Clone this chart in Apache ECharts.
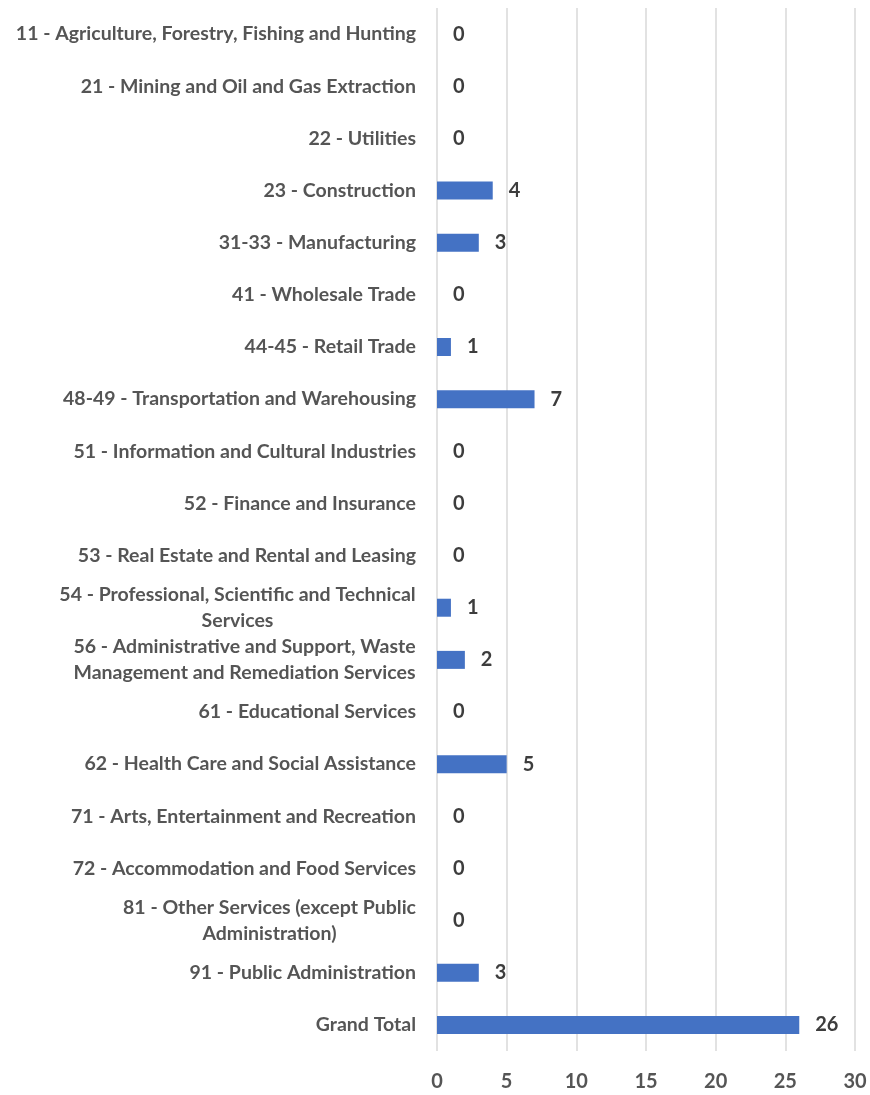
<!DOCTYPE html>
<html><head><meta charset="utf-8">
<script src="https://cdn.jsdelivr.net/npm/echarts@6/dist/echarts.min.js"></script>
<style>html,body{margin:0;padding:0;background:#fff}#c{width:870px;height:1095px}</style>
</head><body><div id="c"></div>
<script>
const categories = [
  "11 - Agriculture, Forestry, Fishing and Hunting",
  "21 - Mining and Oil and Gas Extraction",
  "22 - Utilities",
  "23 - Construction",
  "31-33 - Manufacturing",
  "41 - Wholesale Trade",
  "44-45 - Retail Trade",
  "48-49 - Transportation and Warehousing",
  "51 - Information and Cultural Industries",
  "52 - Finance and Insurance",
  "53 - Real Estate and Rental and Leasing",
  "54 - Professional, Scientific and Technical\nServices",
  "56 - Administrative and Support, Waste\nManagement and Remediation Services",
  "61 - Educational Services",
  "62 - Health Care and Social Assistance",
  "71 - Arts, Entertainment and Recreation",
  "72 - Accommodation and Food Services",
  "81 - Other Services (except Public\nAdministration)",
  "91 - Public Administration",
  "Grand Total"
];
const values = [0,0,0,4,3,0,1,7,0,0,0,1,2,0,5,0,0,0,3,26];
const xTicks = [0,5,10,15,20,25,30];

const FONT = 'Lato';
const LSIZE = 19.5;
const cv = document.createElement('canvas').getContext('2d');
cv.font = 'bold ' + LSIZE + 'px ' + FONT;
const lineW = c => Math.ceil(Math.max(...c.split('\n').map(l => cv.measureText(l).width)));
const rich = {};
categories.forEach(c => {
  if (c.indexOf('\n') < 0) return;
  const w = lineW(c);
  rich['c' + w] = { width: w, align: 'center', fontFamily: FONT, fontWeight: 'bold', fontSize: LSIZE, color: '#555555', lineHeight: 26 };
});
const chart = echarts.init(document.getElementById('c'));
chart.setOption({
  animation: false,
  grid: { left: 437, right: 15, top: 8, bottom: 44, containLabel: false },
  xAxis: {
    type: 'value', min: 0, max: 30, interval: 5,
    axisLine: { show: false }, axisTick: { show: false },
    splitLine: { show: true, lineStyle: { color: '#d9d9d9', width: 1.5 } },
    axisLabel: { margin: 21, fontFamily: FONT, fontWeight: 'bold', fontSize: 20, color: '#555555',
      formatter: v => xTicks.includes(v) ? String(v) : '' }
  },
  yAxis: {
    type: 'category', data: categories, inverse: true,
    axisLine: { show: false }, axisTick: { show: false },
    axisLabel: {
      margin: 21, fontFamily: FONT, fontWeight: 'bold', fontSize: LSIZE, color: '#555555', lineHeight: 26,
      formatter: function(v){
        if (v.indexOf('\n') < 0) return v;
        const w = lineW(v);
        return v.split('\n').map(l => '{c' + w + '|' + l + '}').join('\n');
      },
      rich: rich
    }
  },
  series: [{
    type: 'bar', data: values, barWidth: 18,
    itemStyle: { color: '#4472C4' },
    label: { show: true, position: 'right', distance: 16, fontFamily: FONT, fontWeight: 'bold', fontSize: 20, color: '#3d3d3d' }
  }]
});
</script></body></html>
